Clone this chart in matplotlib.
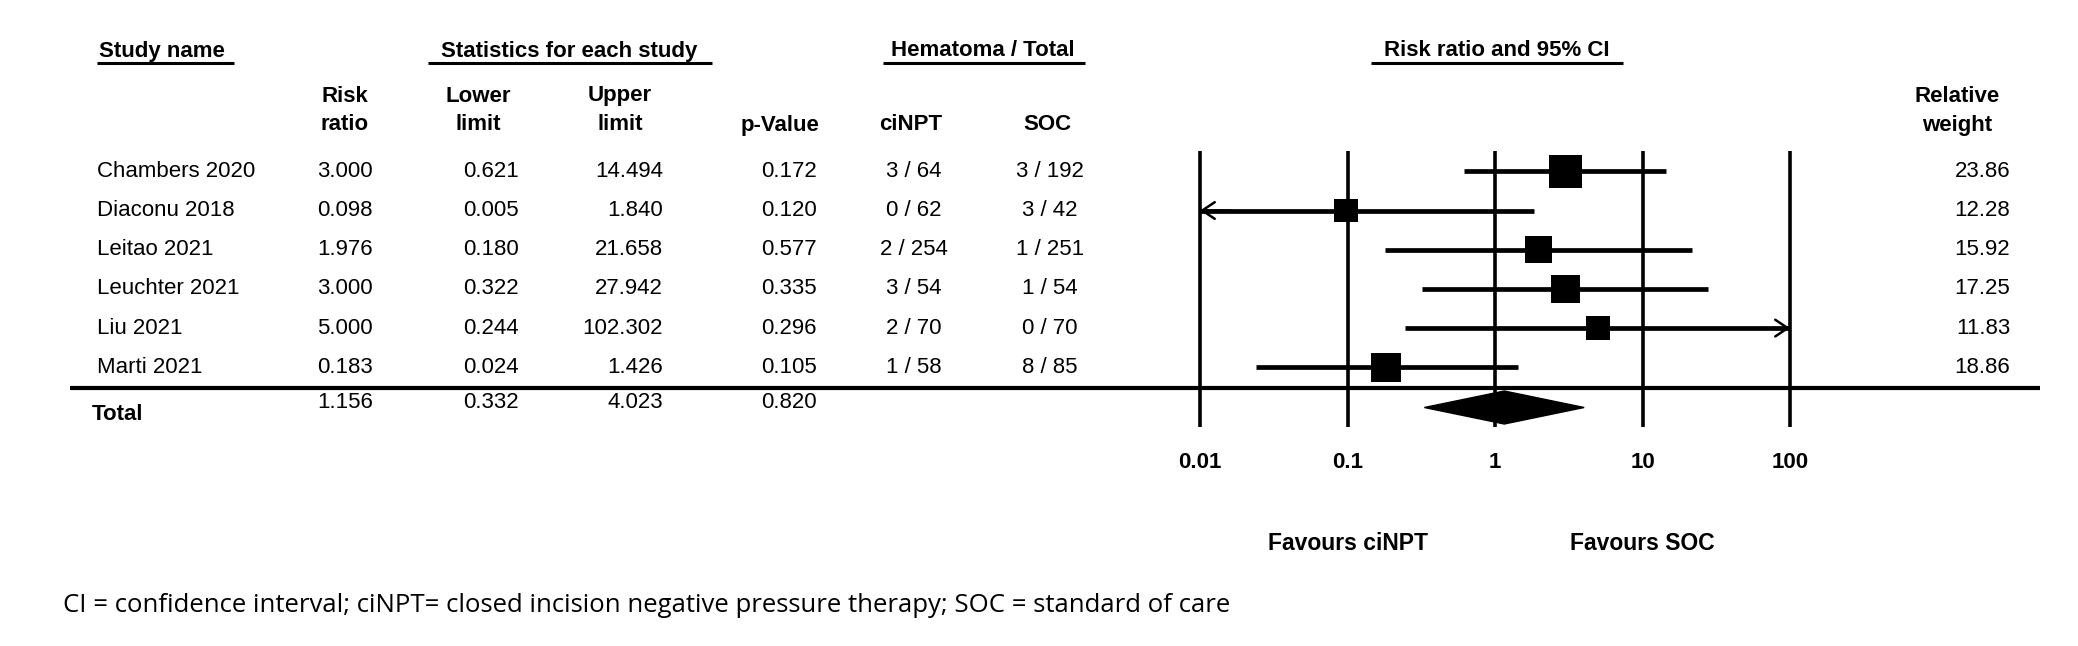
import numpy as np
import matplotlib.pyplot as plt

# study-level data
studies = ['Chambers 2020', 'Diaconu 2018', 'Leitao 2021', 'Leuchter 2021', 'Liu 2021', 'Marti 2021']
risk_ratio = [3.000, 0.098, 1.976, 3.000, 5.000, 0.183]
lower = [0.621, 0.005, 0.180, 0.322, 0.244, 0.024]
upper = [14.494, 1.840, 21.658, 27.942, 102.302, 1.426]
p_value = [0.172, 0.120, 0.577, 0.335, 0.296, 0.105]
cinpt = ['3 / 64', '0 / 62', '2 / 254', '3 / 54', '2 / 70', '1 / 58']
soc = ['3 / 192', '3 / 42', '1 / 251', '1 / 54', '0 / 70', '8 / 85']
weight = [23.86, 12.28, 15.92, 17.25, 11.83, 18.86]

total_rr = 1.156
total_lo = 0.332
total_hi = 4.023
total_p = 0.820

ticks = [0.01, 0.1, 1, 10, 100]
tick_labels = ['0.01', '0.1', '1', '10', '100']

W, H = 2078, 646
FONT = 'Liberation Sans'
FS = 16

fig = plt.figure(figsize=(W / 100, H / 100), dpi=100)
ax = fig.add_axes([0, 0, 1, 1])
ax.set_xlim(0, W)
ax.set_ylim(H, 0)
ax.axis('off')

# forest panel: log axis from 0.01 (x=1200px) to 100 (x=1790px)
ax2 = fig.add_axes([1200 / W, 0, 590 / W, 1])
ax2.set_xscale('log')
ax2.set_xlim(0.01, 100)
ax2.set_ylim(H, 0)
ax2.axis('off')

ROW0, ROW_H = 171.3, 39.2
row_y = ROW0 + ROW_H * np.arange(len(studies))


def txt(a, x, y, s, ha='left', bold=False, size=FS, family=FONT):
    a.text(x, y, s, ha=ha, va='center', fontsize=size, family=family,
           fontweight='bold' if bold else 'normal', clip_on=False)


# top group headers with underlines
txt(ax, 99, 51, 'Study name', bold=True)
txt(ax, 569, 51, 'Statistics for each study', ha='center', bold=True)
txt(ax, 983, 51, 'Hematoma / Total', ha='center', bold=True)
txt(ax, 1497, 51, 'Risk ratio and 95% CI', ha='center', bold=True)
for x0, x1 in [(97, 234), (428, 712), (883, 1085), (1371, 1623)]:
    ax.plot([x0, x1], [63, 63], color='k', lw=2.2, solid_capstyle='butt')

# column headers
for x, l1, l2 in [(345, 'Risk', 'ratio'), (478, 'Lower', 'limit'), (620, 'Upper', 'limit'),
                  (1957, 'Relative', 'weight')]:
    txt(ax, x, 96, l1, ha='center', bold=True)
    txt(ax, x, 125, l2, ha='center', bold=True)
txt(ax, 780, 125, 'p-Value', ha='center', bold=True)
txt(ax, 911, 125, 'ciNPT', ha='center', bold=True)
txt(ax, 1047, 125, 'SOC', ha='center', bold=True)

# table body
for i, y in enumerate(row_y):
    txt(ax, 97, y, studies[i])
    txt(ax, 373, y, f'{risk_ratio[i]:.3f}', ha='right')
    txt(ax, 519, y, f'{lower[i]:.3f}', ha='right')
    txt(ax, 663, y, f'{upper[i]:.3f}', ha='right')
    txt(ax, 817, y, f'{p_value[i]:.3f}', ha='right')
    txt(ax, 914, y, cinpt[i], ha='center')
    txt(ax, 1050, y, soc[i], ha='center')
    txt(ax, 2010, y, f'{weight[i]:.2f}', ha='right')

# separator and total row
ax.plot([70, 2040], [388, 388], color='k', lw=3, solid_capstyle='butt')
txt(ax, 92, 415, 'Total', bold=True)
txt(ax, 373, 403, f'{total_rr:.3f}', ha='right')
txt(ax, 519, 403, f'{total_lo:.3f}', ha='right')
txt(ax, 663, 403, f'{total_hi:.3f}', ha='right')
txt(ax, 817, 403, f'{total_p:.3f}', ha='right')

# forest plot
ax2.vlines(ticks, 151, 427, color='k', lw=2.6, clip_on=False)
lo_c = np.clip(lower, ticks[0], ticks[-1])
hi_c = np.clip(upper, ticks[0], ticks[-1])
ax2.hlines(row_y, lo_c, hi_c, color='k', lw=3.4, clip_on=False)
for i, y in enumerate(row_y):
    if lower[i] < ticks[0]:
        ax2.annotate('', xy=(ticks[0], y), xytext=(ticks[0] * 1.6, y), annotation_clip=False,
                     arrowprops=dict(arrowstyle='->,head_length=0.9,head_width=0.6',
                                     lw=1.8, color='k', shrinkA=0, shrinkB=0))
    if upper[i] > ticks[-1]:
        ax2.annotate('', xy=(ticks[-1], y), xytext=(ticks[-1] / 1.6, y), annotation_clip=False,
                     arrowprops=dict(arrowstyle='->,head_length=0.9,head_width=0.6',
                                     lw=1.8, color='k', shrinkA=0, shrinkB=0))
ax2.scatter(risk_ratio, row_y, s=np.array(weight) * 24, marker='s', color='k',
            linewidths=0, zorder=3, clip_on=False)

DY, DH = 407.5, 16.5
ax2.fill([total_lo, total_rr, total_hi, total_rr], [DY, DY - DH, DY, DY + DH],
         color='k', zorder=3, clip_on=False)

for t, lab in zip(ticks, tick_labels):
    txt(ax2, t, 462, lab, ha='center', bold=True)
txt(ax2, 0.1, 543, 'Favours ciNPT', ha='center', bold=True, size=16.5)
txt(ax2, 10, 543, 'Favours SOC', ha='center', bold=True, size=16.5)

# footnote
txt(ax, 63, 605, 'CI = confidence interval; ciNPT= closed incision negative pressure therapy; '
    'SOC = standard of care', size=18.5, family='Open Sans')

fig.savefig('out.png', dpi=100, facecolor='white')
